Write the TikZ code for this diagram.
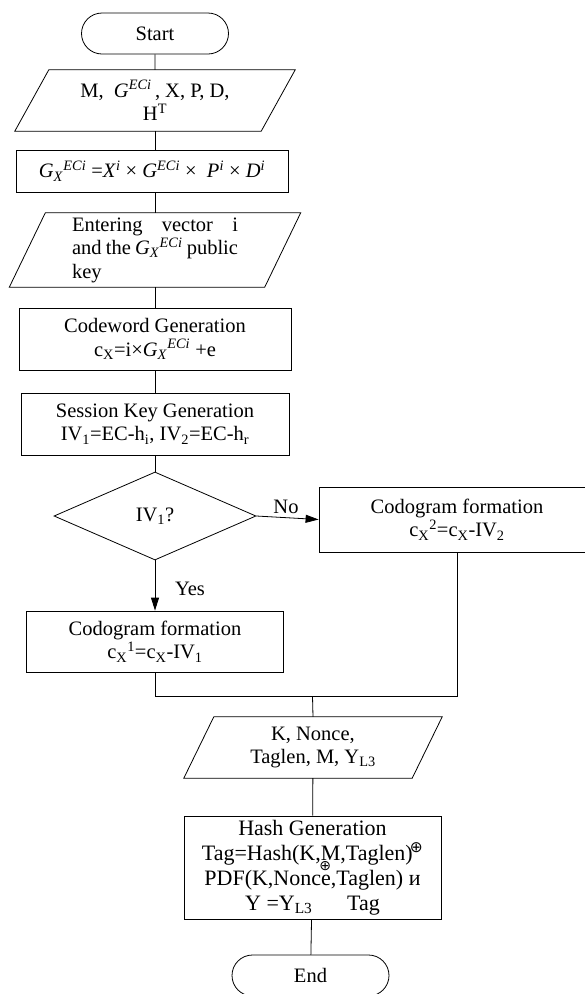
\documentclass[tikz,border=0pt]{standalone}
\usepackage{fontspec}
\setmainfont{Liberation Serif}
\newfontfamily\symfont{DejaVu Sans}
\usetikzlibrary{shapes.geometric,shapes.misc,arrows.meta}

% recurring symbols
\newcommand{\GX}{\textit{G}\textsubscript{\textit{X}}\textsuperscript{\textit{ECi}}}
\newcommand{\GE}{\textit{G}\textsuperscript{\textit{ECi}}}
\newcommand{\cX}{c\textsubscript{X}}
\newcommand{\opl}{{\symfont ⊕}}

% outline of an input/output parallelogram around a text node
\newcommand{\slantoutline}[2]{%
  \draw[conn] ([xshift=#2]#1.north west) -- ([xshift=#2]#1.north east)
    -- ([xshift=-#2]#1.south east) -- ([xshift=-#2]#1.south west) -- cycle;}

\begin{document}
\begin{tikzpicture}[x=1pt,y=-1pt,
  font=\fontsize{20.5}{23.5}\selectfont,
  conn/.style={draw=black, line width=0.8pt},
  arr/.style={-{Triangle[length=13pt,width=8pt]}},
  terminal/.style={rounded rectangle, conn, minimum height=41pt, inner sep=0pt},
  procbox/.style={rectangle, conn, inner sep=0pt, align=center},
  iotext/.style={rectangle, inner sep=0pt, align=center},
  decision/.style={diamond, conn, minimum width=202pt, minimum height=88pt, inner sep=0pt},
  lbl/.style={inner sep=0pt}]

\useasboundingbox (0,0) rectangle (585,994);
\clip (0,0) rectangle (585,994);

% main column
\node[terminal, minimum width=147pt] (start) at (155,33.5) {Start};

\node[iotext, minimum width=246pt, minimum height=61pt] (in1) at (155,100.5)
  {M,\ \ \GE\,, X, P, D,\\H\textsuperscript{T}};
\slantoutline{in1}{17pt}

\node[procbox, minimum width=272pt, minimum height=42pt] (key) at (152,171)
  {\GX\ =\textit{X}\textsuperscript{\textit{i}} × \GE\ ×\ \ \textit{P}\textsuperscript{\textit{i}} × \textit{D}\textsuperscript{\textit{i}}};

\node[iotext, minimum width=255pt, minimum height=74pt] (in2) at (155,250)
  {\parbox{166pt}{Entering\hfill vector\hfill i\\and the \GX\ public\\key}};
\slantoutline{in2}{18pt}

\node[procbox, minimum width=272pt, minimum height=62pt] (code) at (155,339)
  {Codeword Generation\\\cX=i×\GX\ +e};

\node[procbox, minimum width=268pt, minimum height=62pt] (sess) at (155,424)
  {Session Key Generation\\IV\textsubscript{1}=EC-h\textsubscript{i}, IV\textsubscript{2}=EC-h\textsubscript{r}};

\node[decision] (dec) at (155,516) {IV\textsubscript{1}?};

% the two branches
\node[procbox, minimum width=276pt, minimum height=65pt] (cr) at (457,519.5)
  {Codogram formation\\\cX\textsuperscript{2}=\cX-IV\textsubscript{2}};
\node[procbox, minimum width=257pt, minimum height=61pt] (cl) at (155,641.5)
  {Codogram formation\\\cX\textsuperscript{1}=\cX-IV\textsubscript{1}};

\node[lbl] (no) at (286,507) {No};
\node[lbl] (yes) at (190,589) {Yes};

\coordinate (m) at (312.5,696);

% lower column
\node[iotext, minimum width=228pt, minimum height=61pt] (in3) at (313,747.5)
  {K, Nonce,\\Taglen, M, Y\textsubscript{L3}};
\slantoutline{in3}{15pt}

\node[procbox, minimum width=257pt, minimum height=103pt,
      font=\fontsize{22}{25}\selectfont] (hash) at (312.5,867.5)
  {Hash Generation\\
   Tag=Hash(K,M,Taglen)\kern-3pt\textsuperscript{\opl}\\
   PDF(K,Nonce,Taglen) и\\
   Y =Y\textsubscript{L3}\hspace{7pt}\raisebox{40pt}[0pt][0pt]{\fontsize{14}{14}\selectfont\opl}\hspace{16pt}Tag};

\node[terminal, minimum width=157pt] (end) at (310.5,975.5) {End};

% connectors
\draw[conn] (start) -- (in1);
\draw[conn] (in1.south) -- (in1.south |- key.north);
\draw[conn] (key.south -| in2.north) -- (in2.north);
\draw[conn] (in2) -- (code);
\draw[conn] (code) -- (sess);
\draw[conn] (sess) -- (dec);
\draw[conn, arr] (dec.east) -- (cr.west);
\draw[conn, arr] (dec.south) -- (cl.north);
\draw[conn] (cl.south) |- (m) -| (cr.south);
\draw[conn] (m) -- (in3.north);
\draw[conn] (in3) -- (hash);
\draw[conn] (hash) -- (end);
\end{tikzpicture}
\end{document}
